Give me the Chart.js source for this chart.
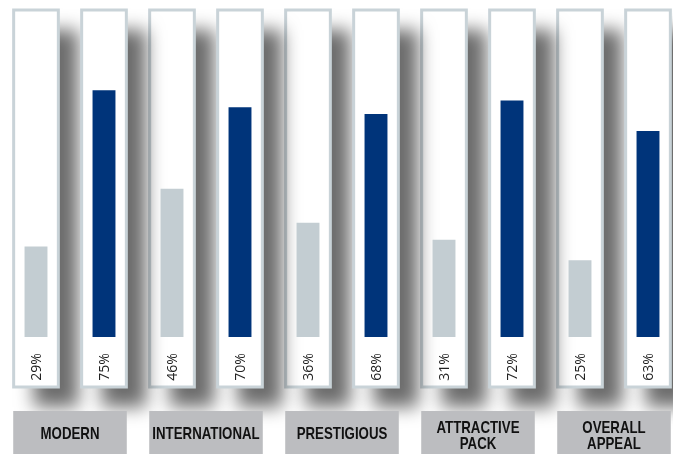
<!DOCTYPE html>
<html>
<head>
<meta charset="utf-8">
<script src="https://cdn.jsdelivr.net/npm/chart.js@4"></script>
<style>
  body { margin: 0; background: #fff; }
  canvas { display: block; }
</style>
</head>
<body>
<canvas id="appealChart" width="673" height="454"></canvas>
<script>
// data
const categories = [['MODERN'], ['INTERNATIONAL'], ['PRESTIGIOUS'], ['ATTRACTIVE', 'PACK'], ['OVERALL', 'APPEAL']];
const lightValues = [29, 46, 36, 31, 25];
const darkValues = [75, 70, 68, 72, 63];

// white framed columns with a soft drop shadow behind every bar
const columnBoxes = {
    id: 'columnBoxes',
    beforeDatasetsDraw(chart) {
        const ctx = chart.ctx;
        const area = chart.chartArea;
        ctx.save();
        chart.data.datasets.forEach((ds, di) => {
            chart.getDatasetMeta(di).data.forEach(bar => {
                const w = bar.width * 1.95;
                const x = bar.x - w / 2;
                const y = area.top;
                const h = area.bottom + 50 - area.top;
                ctx.shadowColor = 'rgba(0,0,0,0.58)';
                ctx.shadowBlur = 18;
                ctx.shadowOffsetX = 20;
                ctx.shadowOffsetY = 20;
                ctx.fillStyle = '#ffffff';
                ctx.fillRect(x, y, w, h);
                ctx.shadowColor = 'transparent';
                ctx.lineWidth = 3;
                ctx.strokeStyle = '#c9d3d8';
                ctx.strokeRect(x, y, w, h);
            });
        });
        ctx.restore();
    },
    afterDatasetsDraw(chart) {
        const ctx = chart.ctx;
        const area = chart.chartArea;
        ctx.save();
        // value labels, rotated
        ctx.fillStyle = '#222';
        ctx.font = '14px "Open Sans", "Liberation Sans", sans-serif';
        ctx.textAlign = 'center';
        ctx.textBaseline = 'middle';
        chart.data.datasets.forEach((ds, di) => {
            chart.getDatasetMeta(di).data.forEach((bar, i) => {
                ctx.save();
                ctx.translate(bar.x + 1, area.bottom + 30);
                ctx.rotate(-Math.PI / 2);
                ctx.fillText(ds.data[i] + '%', 0, 0);
                ctx.restore();
            });
        });
        // category label boxes
        const xs = chart.scales.x;
        const m0 = chart.getDatasetMeta(0).data;
        const m1 = chart.getDatasetMeta(1).data;
        ctx.font = 'bold 17px "Liberation Sans", sans-serif';
        categories.forEach((lines, i) => {
            const cx = xs.getPixelForValue(i);
            const w = (m1[i].x - m0[i].x) * 1.67;
            ctx.fillStyle = '#bcbdc0';
            ctx.fillRect(cx - w / 2, area.bottom + 74, w, 60);
            ctx.fillStyle = '#111';
            const lh = 16;
            const y0 = area.bottom + 97 - (lines.length - 1) * lh / 2 + (lines.length - 1) * 2;
            lines.forEach((t, j) => {
                ctx.save();
                ctx.translate(cx, y0 + j * lh);
                ctx.scale(0.78, 1);   // narrow look of the original lettering
                ctx.fillText(t, 0, 0);
                ctx.restore();
            });
        });
        ctx.restore();
    }
};

new Chart(document.getElementById('appealChart'), {
    type: 'bar',
    data: {
        labels: categories,
        datasets: [{
            data: lightValues,
            backgroundColor: '#c3cdd2',
            clip: false
        }, {
            data: darkValues,
            backgroundColor: '#00347a',
            clip: false
        }]
    },
    options: {
        responsive: false,
        animation: false,
        layout: { padding: { top: 10, bottom: 117, left: 70, right: 59 } },
        datasets: { bar: { categoryPercentage: 1.0, barPercentage: 0.337, base: 2.4 } },
        scales: {
            x: { display: false, offset: false },
            y: { display: false, min: 2.4, max: 98.6 }
        },
        plugins: {
            legend: { display: false },
            tooltip: { enabled: false }
        }
    },
    plugins: [columnBoxes]
});
</script>
</body>
</html>
